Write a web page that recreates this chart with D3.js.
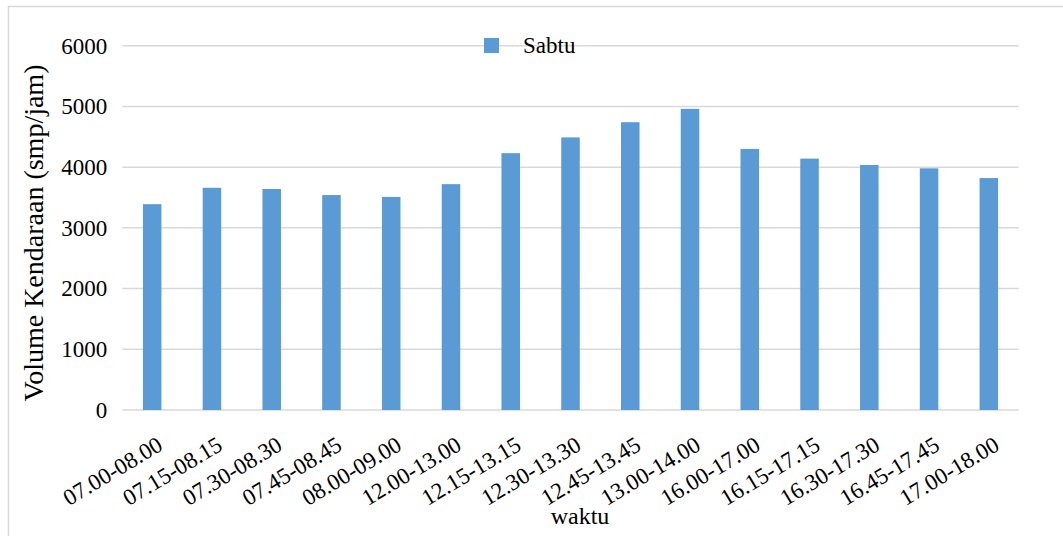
<!DOCTYPE html>
<html>
<head>
<meta charset="utf-8">
<script src="https://cdn.jsdelivr.net/npm/d3@7"></script>
<style>
  html, body { margin: 0; padding: 0; background: #fff; }
</style>
</head>
<body>
<svg id="chart" width="1063" height="536"></svg>
<script>
// Traffic volume per time window (Saturday)
const categories = ["07.00-08.00","07.15-08.15","07.30-08.30","07.45-08.45","08.00-09.00",
  "12.00-13.00","12.15-13.15","12.30-13.30","12.45-13.45","13.00-14.00",
  "16.00-17.00","16.15-17.15","16.30-17.30","16.45-17.45","17.00-18.00"];
const sabtu = [3390, 3660, 3640, 3540, 3510, 3720, 4230, 4490, 4740, 4960, 4300, 4140, 4035, 3980, 3820];
const yTicks = [0, 1000, 2000, 3000, 4000, 5000, 6000];
const seriesName = "Sabtu";
const xTitle = "waktu";
const yTitle = "Volume Kendaraan (smp/jam)";

const FONT = '"Liberation Serif", "Times New Roman", serif';
const svg = d3.select("#chart");
const W = 1063, H = 536;
const plot = { left: 122.3, right: 1018.7, top: 45.7, bottom: 410 };

// outer chart frame
svg.append("rect")
  .attr("x", 8.5).attr("y", 6.5)
  .attr("width", W + 10).attr("height", H + 10)
  .attr("fill", "#fff").attr("stroke", "#d9d9d9").attr("stroke-width", 1.5);

const x = d3.scaleBand().domain(categories).range([plot.left, plot.right]).paddingInner(0.69).paddingOuter(0.345);
const y = d3.scaleLinear().domain([0, 6000]).range([plot.bottom, plot.top]);

// horizontal gridlines
svg.append("g").selectAll("line").data(yTicks).join("line")
  .attr("x1", plot.left).attr("x2", plot.right)
  .attr("y1", d => y(d)).attr("y2", d => y(d))
  .attr("stroke", "#d9d9d9").attr("stroke-width", 1.5);

// y axis labels
const yAxis = svg.append("g").attr("transform", `translate(${plot.left},0)`)
  .call(d3.axisLeft(y).tickValues(yTicks).tickSize(0).tickPadding(15).tickFormat(d3.format("d")));
yAxis.select(".domain").remove();
yAxis.selectAll("text")
  .style("font-family", FONT).style("font-size", "23px").attr("fill", "#000");

// bars
svg.append("g").selectAll("rect").data(sabtu).join("rect")
  .attr("x", (d, i) => x(categories[i]))
  .attr("width", x.bandwidth())
  .attr("y", d => y(d))
  .attr("height", d => y(0) - y(d))
  .attr("fill", "#5b9bd5");

// x axis category labels, rotated
const xAxis = svg.append("g").attr("transform", `translate(0,${plot.bottom})`)
  .call(d3.axisBottom(x).tickSize(0).tickPadding(0));
xAxis.select(".domain").remove();
xAxis.selectAll("text")
  .style("font-family", FONT).style("font-size", "23px").attr("fill", "#000")
  .attr("text-anchor", "end")
  .attr("dy", null).attr("y", 0)
  .attr("transform", "translate(12,39) rotate(-31)");

// axis titles
svg.append("text")
  .attr("x", 580).attr("y", 524)
  .attr("text-anchor", "middle").style("font-family", FONT).style("font-size", "24px").attr("fill", "#000")
  .text(xTitle);
svg.append("text")
  .attr("transform", "translate(43,233) rotate(-90)")
  .attr("text-anchor", "middle").style("font-family", FONT).style("font-size", "28px").attr("fill", "#000")
  .text(yTitle);

// legend
const lg = svg.append("g");
lg.append("rect").attr("x", 484).attr("y", 38).attr("width", 15).attr("height", 15).attr("fill", "#5b9bd5");
lg.append("text").attr("x", 523).attr("y", 53)
  .style("font-family", FONT).style("font-size", "23px").attr("fill", "#000").text(seriesName);
</script>
</body>
</html>
